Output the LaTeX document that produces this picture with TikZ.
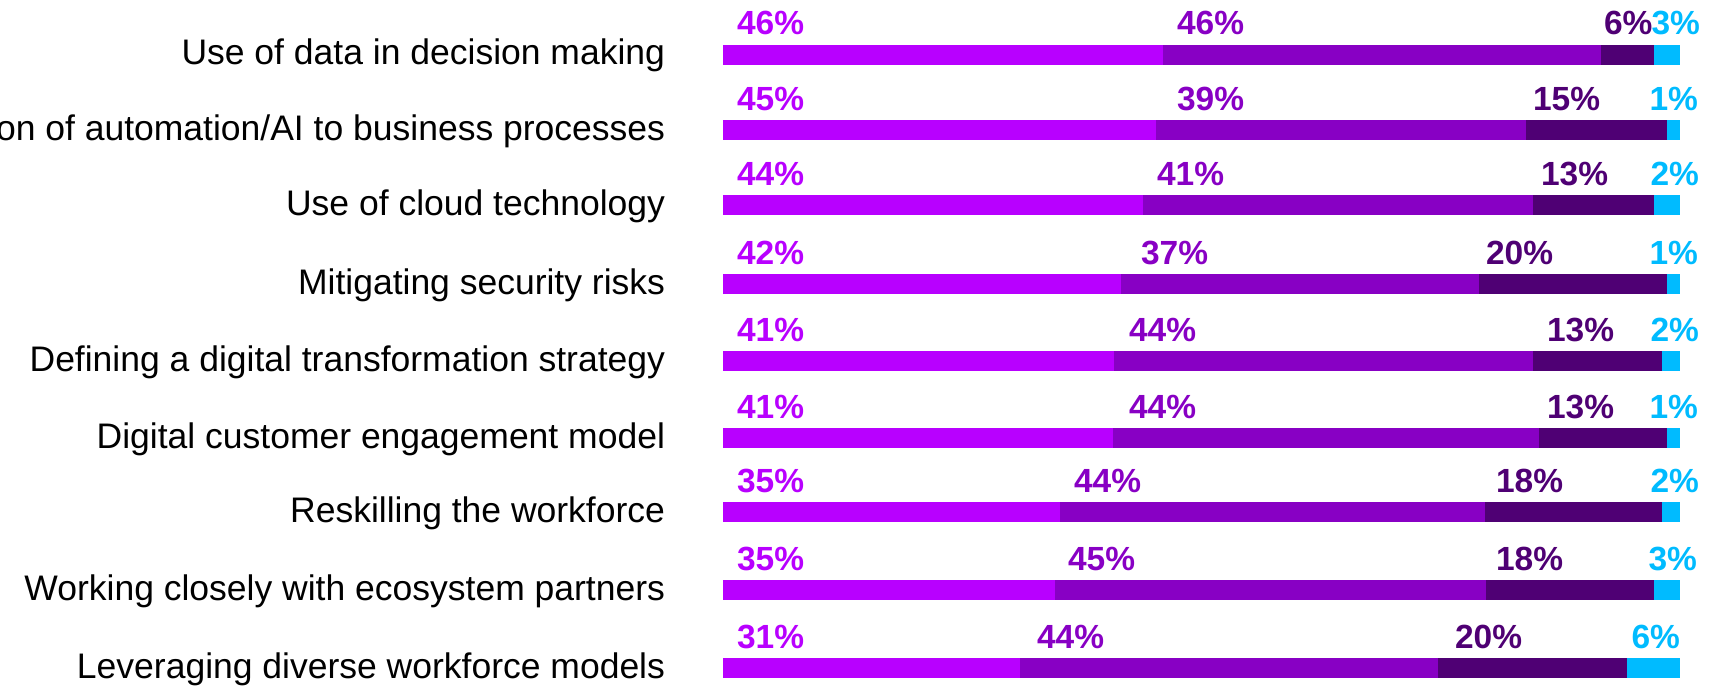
\documentclass[tikz,border=0pt]{standalone}
\usepackage{fontspec}
\setmainfont{Liberation Sans}
\definecolor{segA}{HTML}{B800FF}
\definecolor{segB}{HTML}{8800C4}
\definecolor{segC}{HTML}{4F0074}
\definecolor{segD}{HTML}{00BBFF}
\begin{document}
\begin{tikzpicture}
  [x=1pt,y=-1pt,
   every node/.style={inner sep=0pt,outer sep=0pt},
   cat/.style={anchor=base east,font=\fontsize{35.5}{40}\selectfont},
   pct/.style={anchor=base west,font=\fontsize{33.5}{38}\selectfont\bfseries},
   pctr/.style={pct,anchor=base east}]
  \useasboundingbox (0,0) rectangle (1720,685);

  % row / bar top / segment ends / values / label x
  \foreach \n/\t/\ba/\bb/\bc/\va/\vb/\vc/\vd/\lb/\lc/\ld in {
      1/45/1163/1601/1654/46/46/6/3/1177/1604/1700,
      2/120/1156/1526/1667/45/39/15/1/1177/1533/1698,
      3/195/1143/1533/1654/44/41/13/2/1157/1541/1699,
      4/274/1121/1479/1667/42/37/20/1/1141/1486/1698,
      5/351/1114/1533/1662/41/44/13/2/1129/1547/1699,
      6/428/1113/1539/1667/41/44/13/1/1129/1547/1698,
      7/502/1060/1485/1662/35/44/18/2/1074/1496/1699,
      8/580/1055/1486/1654/35/45/18/3/1068/1496/1697,
      9/658/1020/1438/1627/31/44/20/6/1037/1455/1680}
  {
    \fill[segA] (723,\t) rectangle (\ba,\t+20);
    \fill[segB] (\ba,\t) rectangle (\bb,\t+20);
    \fill[segC] (\bb,\t) rectangle (\bc,\t+20);
    \fill[segD] (\bc,\t) rectangle (1680,\t+20);
    \node[pct,text=segA] (pa\n) at (737,\t-10) {\va\%};
    \node[pct,text=segB] (pb\n) at (\lb,\t-10) {\vb\%};
    \node[pct,text=segC] (pc\n) at (\lc,\t-10) {\vc\%};
    \node[pctr,text=segD] (pd\n) at (\ld,\t-10) {\vd\%};
  }

  % category labels
  \node[cat] (cat1) at (665,65)  {Use of data in decision making};
  \node[cat] (cat2) at (665,140) {on of automation/AI to business processes};
  \node[cat] (cat3) at (665,215) {Use of cloud technology};
  \node[cat] (cat4) at (665,294) {Mitigating security risks};
  \node[cat] (cat5) at (665,371) {Defining a digital transformation strategy};
  \node[cat] (cat6) at (665,448) {Digital customer engagement model};
  \node[cat] (cat7) at (665,522) {Reskilling the workforce};
  \node[cat] (cat8) at (665,600) {Working closely with ecosystem partners};
  \node[cat] (cat9) at (665,678) {Leveraging diverse workforce models};
\end{tikzpicture}
\end{document}
